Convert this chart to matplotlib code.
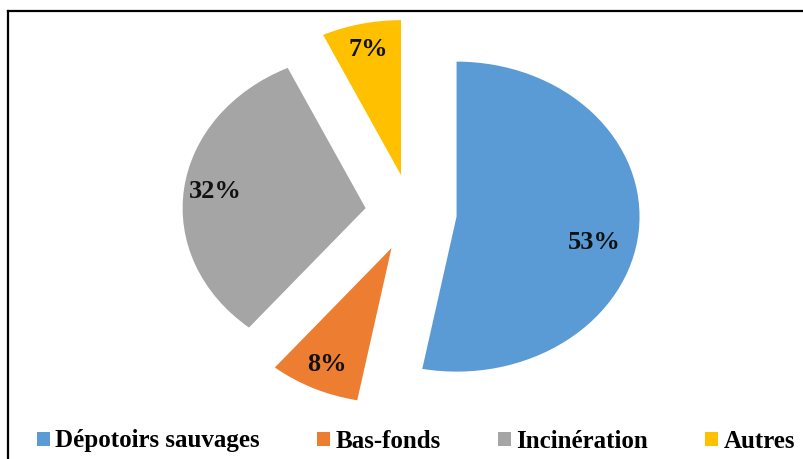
import numpy as np
import matplotlib
matplotlib.use('Agg')
import matplotlib.pyplot as plt
from matplotlib.lines import Line2D

labels = ['Dépotoirs sauvages', 'Bas-fonds', 'Incinération', 'Autres']
values = [53, 8, 32, 7]
colors = ['#5B9BD5', '#ED7D31', '#A5A5A5', '#FFC000']

plt.rcParams['font.family'] = ['Liberation Serif', 'DejaVu Serif']

fig = plt.figure(figsize=(8.04, 4.59), dpi=100)
ax = fig.add_axes([0.1698, 0.097, 0.6828, 0.878])

wedges, texts, autotexts = ax.pie(
    values, colors=colors, startangle=90, counterclock=False,
    explode=[0.25] * len(values), autopct='%.0f%%', pctdistance=0.83,
    textprops=dict(fontsize=19, fontweight='bold', color='#111111'),
    wedgeprops=dict(linewidth=0))

# the big slice label sits a bit lower than the bisector
cx, cy = wedges[0].center
a = np.deg2rad(-12.5)
autotexts[0].set_position((cx + 0.77 * np.cos(a), cy + 0.77 * np.sin(a)))

# stretched (elliptical) pie like the original
ax.set_aspect('auto')
ax.set_xlim(-1.5, 1.5)
ax.set_ylim(-1.3, 1.3)

# frame lines on top and left
fig.add_artist(Line2D([8 / 804, 1], [1 - 11 / 459] * 2, transform=fig.transFigure,
                      color='black', lw=1.6))
fig.add_artist(Line2D([8 / 804] * 2, [0, 1 - 11 / 459], transform=fig.transFigure,
                      color='black', lw=1.6))

fig.legend(wedges, labels, loc='center', bbox_to_anchor=(416 / 804, 18 / 459),
           ncol=4, frameon=False, handlelength=0.52, handleheight=0.48,
           handletextpad=0.2, columnspacing=2.3,
           prop=dict(family='Liberation Serif', weight='bold', size=18))

fig.savefig('out.png', dpi=100)
